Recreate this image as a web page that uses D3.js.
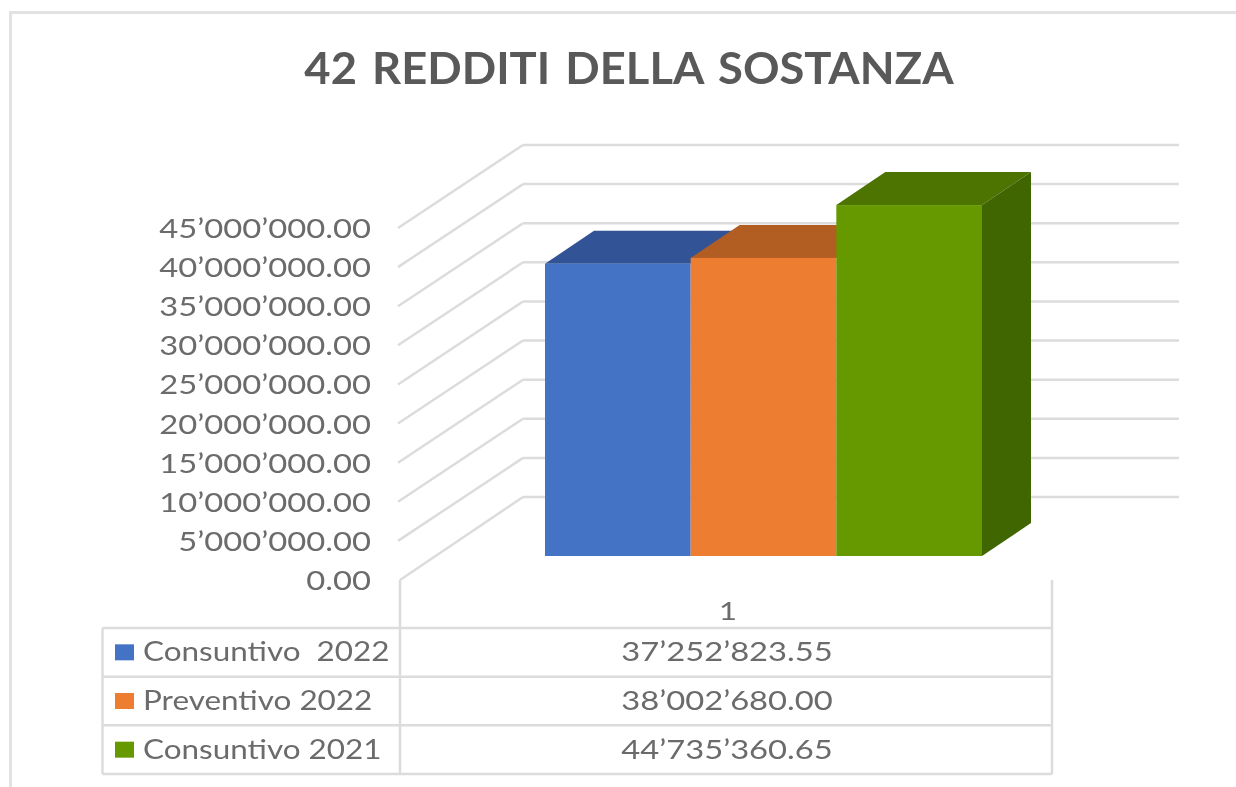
<!DOCTYPE html>
<html><head><meta charset="utf-8">
<script src="https://cdn.jsdelivr.net/npm/d3@7"></script>
<style>html,body{margin:0;padding:0;background:#fff}svg{display:block;filter:blur(0.45px)}text{font-family:Lato,sans-serif}</style>
</head><body><div id="c"></div>
<script>
const title = "42 REDDITI DELLA SOSTANZA";
const seriesNames = ["Consuntivo  2022", "Preventivo 2022", "Consuntivo 2021"];
const seriesValues = [37252823.55, 38002680.00, 44735360.65];
const seriesLabels = ["37’252’823.55", "38’002’680.00", "44’735’360.65"];
const seriesColors = ["#4472C4", "#ED7D31", "#669900"];
const topColors = ["#325496", "#B25D22", "#4D7300"];
const sideColor = "#3F6600";
const yTicks = [0, 5e6, 10e6, 15e6, 20e6, 25e6, 30e6, 35e6, 40e6, 45e6];
const category = "1";

const W = 1236, H = 787;
const svg = d3.select("#c").append("svg").attr("width", W).attr("height", H);
const fmt = v => d3.format(",.2f")(v).replace(/,/g, "’");
const grey = "#dcdcdc", txt = "#6b6b6b";
const label = (x, y, s, anchor, size = 26, sx = 1.26) => svg.append("text")
  .attr("transform", `translate(${x},${y}) scale(${sx},1)`)
  .attr("text-anchor", anchor).attr("font-size", size).attr("fill", txt).text(s);
const line = (x1, y1, x2, y2) => svg.append("line")
  .attr("x1", x1).attr("y1", y1).attr("x2", x2).attr("y2", y2)
  .attr("stroke", grey).attr("stroke-width", 2.5);

// chart frame
svg.append("path").attr("d", `M10.5,${H}V12.5H${W}`).attr("fill", "none").attr("stroke", "#e2e2e2").attr("stroke-width", 3);

svg.append("text").attr("transform", "translate(629,84) scale(1.03,1)")
  .attr("text-anchor", "middle").attr("font-size", 44).attr("font-weight", 700)
  .attr("fill", "#595959").attr("word-spacing", 4).text(title);

// scales
const y = d3.scaleLinear().domain([0, 45e6]).range([580, 228]);
const wallDx = 123, wallDy = 83, wallEnd = 1179;
const barX = d3.scaleBand().domain(seriesNames).range([545, 982]);
const barBase = 556, barDx = 49, barDy = 33;
const barH = d3.scaleLinear().domain([0, 45e6]).range([0, 353]);

// gridlines
yTicks.forEach(t => {
  line(400 - (t ? 2 : 0), y(t), 400 + wallDx, y(t) - wallDy);
  line(400 + wallDx, y(t) - wallDy, wallEnd, y(t) - wallDy);
  label(371, y(t) + 10, fmt(t), "end");
});

// bars
seriesNames.forEach((n, i) => {
  const x0 = barX(n), w = barX.bandwidth(), yt = barBase - barH(seriesValues[i]);
  svg.append("path").attr("fill", topColors[i])
    .attr("d", `M${x0},${yt}L${x0 + barDx},${yt - barDy}L${x0 + w + barDx},${yt - barDy}L${x0 + w},${yt}Z`);
  if (i === seriesNames.length - 1) {
    svg.append("path").attr("fill", sideColor)
      .attr("d", `M${x0 + w},${yt}L${x0 + w + barDx},${yt - barDy}L${x0 + w + barDx},${barBase - barDy}L${x0 + w},${barBase}Z`);
  }
});
seriesNames.forEach((n, i) => {
  const yt = barBase - barH(seriesValues[i]);
  svg.append("rect").attr("x", barX(n)).attr("y", yt).attr("width", barX.bandwidth())
    .attr("height", barH(seriesValues[i])).attr("fill", seriesColors[i]);
});

// data table
const rowY = d3.scalePoint().domain(d3.range(seriesNames.length + 1)).range([628, 774]);
const tL = 102.5, tM = 400, tR = 1052, tC = (tM + tR) / 2;
d3.range(seriesNames.length + 1).forEach(r => line(tL, rowY(r), tR, rowY(r)));
line(tL, 628, tL, 774);
line(tM, 580, tM, 774);
line(tR, 580, tR, 774);
label(tC + 2, 620, category, "middle", 25);
seriesNames.forEach((n, i) => {
  const cy = (rowY(i) + rowY(i + 1)) / 2;
  svg.append("rect").attr("x", 115).attr("y", cy - 8).attr("width", 19).attr("height", 16).attr("fill", seriesColors[i]);
  label(143, cy + 9, n, "start", 26, 1.21).style("white-space", "pre");
  label(tC + 1, cy + 9, seriesLabels[i], "middle");
});
</script></body></html>
